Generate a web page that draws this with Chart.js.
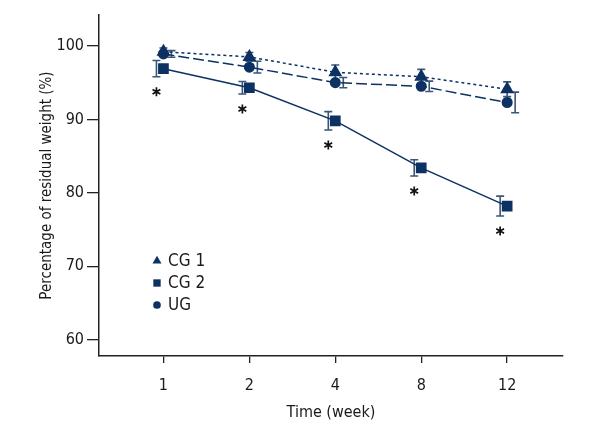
<!DOCTYPE html>
<html>
<head>
<meta charset="utf-8">
<script src="https://cdn.jsdelivr.net/npm/chart.js@4.4.0/dist/chart.umd.min.js"></script>
<style>
  html, body { margin: 0; padding: 0; background: #fff; }
</style>
</head>
<body>
<canvas id="grafico" width="600" height="440"></canvas>
<script>
// Dados
const semanas = ['1', '2', '4', '8', '12'];
const ticksY = [60, 70, 80, 90, 100];
const cg1 = [99.2, 98.5, 96.4, 95.8, 94.1];
const cg1Erro = [0.5, 0.6, 1.0, 1.0, 1.0];
const cg2 = [96.9, 94.3, 89.8, 83.4, 78.2];
const cg2Erro = [1.1, 0.85, 1.25, 1.1, 1.35];
const ug = [98.9, 97.1, 95.0, 94.5, 92.3];
const ugErro = [0.45, 0.8, 0.7, 0.7, 1.4];

const FONTE = "'Liberation Sans Narrow', 'DejaVu Sans Condensed', sans-serif";
const AZUL = '#0c3162';
const AZUL_ERRO = '#3a5679';

const pontos = vals => vals.map((v, i) => ({ x: i + 1, y: v }));

// Barras de erro, asteriscos e legenda desenhados à mão
const extras = {
  id: 'extras',
  beforeDatasetsDraw(chart) {
    const { ctx, scales: { x, y } } = chart;
    ctx.save();
    ctx.strokeStyle = AZUL_ERRO;
    ctx.lineWidth = 1.6;
    chart.data.datasets.forEach(ds => {
      ds.data.forEach((p, i) => {
        const px = x.getPixelForValue(p.x) + ds.desvio;
        const topo = y.getPixelForValue(p.y + ds.erros[i]);
        const base = y.getPixelForValue(p.y - ds.erros[i]);
        ctx.beginPath();
        ctx.moveTo(px, topo); ctx.lineTo(px, base);
        ctx.moveTo(px - 4, topo); ctx.lineTo(px + 4, topo);
        ctx.moveTo(px - 4, base); ctx.lineTo(px + 4, base);
        ctx.stroke();
      });
    });
    ctx.restore();
  },
  afterDatasetsDraw(chart) {
    const { ctx, scales: { x, y } } = chart;
    ctx.save();
    ctx.strokeStyle = '#111';
    ctx.lineWidth = 1.7;
    chart.data.datasets.forEach(ds => {
      if (!ds.asterisco) return;
      ds.data.forEach((p, i) => {
        const cx = x.getPixelForValue(p.x) + ds.desvio;
        const cy = y.getPixelForValue(p.y - ds.erros[i]) + 15;
        ctx.beginPath();
        [90, 30, -30].forEach(a => {
          const r = a * Math.PI / 180;
          ctx.moveTo(cx - Math.cos(r) * 4.5, cy - Math.sin(r) * 4.5);
          ctx.lineTo(cx + Math.cos(r) * 4.5, cy + Math.sin(r) * 4.5);
        });
        ctx.stroke();
      });
    });

    // legenda
    const area = chart.chartArea;
    ctx.font = '17px ' + FONTE;
    ctx.textBaseline = 'middle';
    chart.data.datasets.forEach((ds, i) => {
      const lx = area.left + 58;
      const ly = area.top + 246 + i * 22;
      ctx.fillStyle = AZUL;
      ctx.strokeStyle = AZUL;
      Chart.helpers.drawPoint(ctx, { pointStyle: ds.pointStyle, radius: ds.pointRadius * 0.8, rotation: 0, borderWidth: 0 }, lx, ly);
      ctx.fillStyle = '#1a1a1a';
      ctx.fillText(ds.label, lx + 11, ly + 1);
    });
    ctx.restore();
  }
};

const ctx = document.getElementById('grafico').getContext('2d');
new Chart(ctx, {
  type: 'line',
  data: {
    datasets: [
      {
        label: 'CG 1', data: pontos(cg1), erros: cg1Erro, desvio: 0,
        borderColor: AZUL, backgroundColor: AZUL, borderWidth: 1.5, borderDash: [3, 3],
        pointStyle: 'triangle', pointRadius: 6.5
      },
      {
        label: 'CG 2', data: pontos(cg2), erros: cg2Erro, desvio: -7, asterisco: true,
        borderColor: AZUL, backgroundColor: AZUL, borderWidth: 1.5,
        pointStyle: 'rect', pointRadius: 6.5
      },
      {
        label: 'UG', data: pontos(ug), erros: ugErro, desvio: 8,
        borderColor: AZUL, backgroundColor: AZUL, borderWidth: 1.5, borderDash: [11, 4],
        pointStyle: 'circle', pointRadius: 4.8
      }
    ]
  },
  options: {
    responsive: false,
    animation: false,
    layout: { padding: { top: 15, right: 37, left: 0, bottom: 0 } },
    plugins: { legend: { display: false }, tooltip: { enabled: false } },
    elements: { point: { borderWidth: 0 }, line: { tension: 0 } },
    scales: {
      x: {
        type: 'linear', min: 0.25, max: 5.65,
        afterBuildTicks: s => { s.ticks = semanas.map((_, i) => ({ value: i + 1 })); },
        afterFit: s => { s.height = 84; },
        ticks: {
          callback: v => semanas[v - 1],
          color: '#1a1a1a', padding: 13,
          font: { family: FONTE, size: 16 }
        },
        grid: { drawOnChartArea: false, drawTicks: true, tickLength: 7, color: '#222', lineWidth: 1.3 },
        border: { display: true, color: '#222', width: 1.5 },
        title: {
          display: true, text: 'Time (week)', color: '#1a1a1a',
          font: { family: FONTE, size: 16 }, padding: { top: 4, bottom: 18 }
        }
      },
      y: {
        min: 57.8, max: 104.2,
        afterBuildTicks: s => { s.ticks = ticksY.map(v => ({ value: v })); },
        afterFit: s => { s.width = 99; },
        ticks: {
          color: '#1a1a1a', padding: 3,
          font: { family: FONTE, size: 16 }
        },
        grid: { drawOnChartArea: false, drawTicks: true, tickLength: 12, color: '#222', lineWidth: 1.3 },
        border: { display: true, color: '#222', width: 1.5 },
        title: {
          display: true, text: 'Percentage of residual weight (%)', color: '#1a1a1a',
          font: { family: FONTE, size: 15 }, padding: { top: 38, bottom: 0 }
        }
      }
    }
  },
  plugins: [extras]
});
</script>
</body>
</html>
